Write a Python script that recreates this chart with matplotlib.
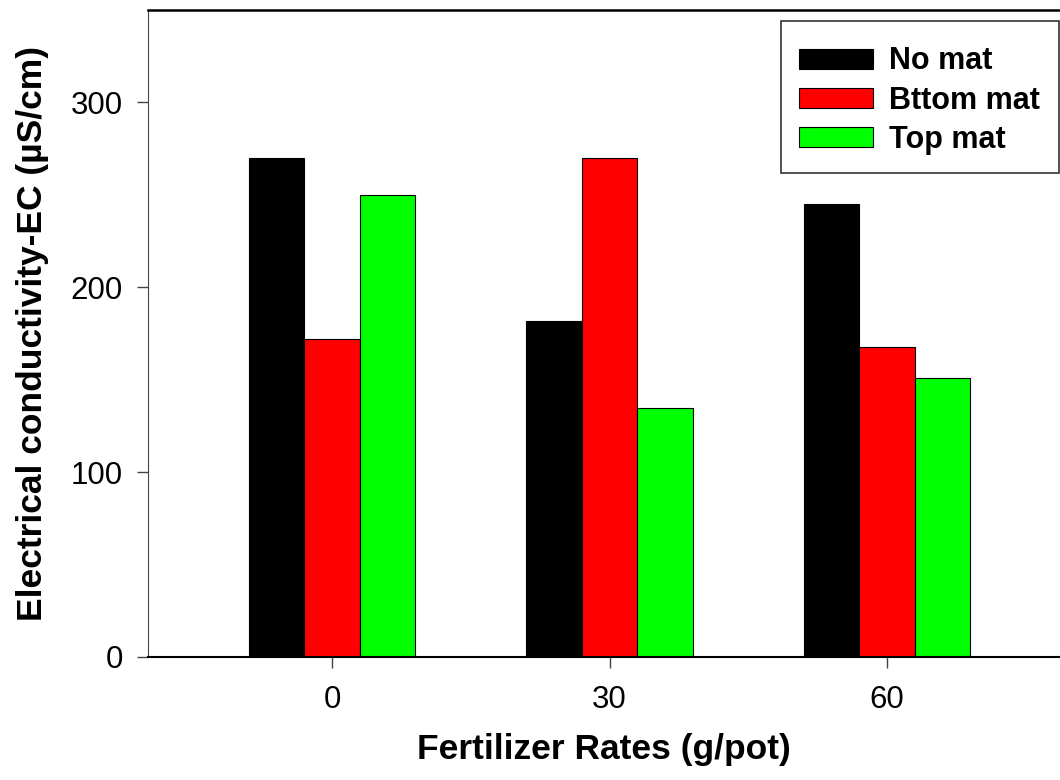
import matplotlib
matplotlib.use("Agg")
import matplotlib.pyplot as plt
from matplotlib.patches import Rectangle
import numpy as np

plt.rcParams['font.family'] = ['Liberation Sans', 'DejaVu Sans']

rates = [0, 30, 60]
no_mat = [270, 182, 245]
bottom_mat = [172, 270, 167.5]
top_mat = [250, 134.5, 151]
labels = ['No mat', 'Bttom mat', 'Top mat']
colors = ['#000000', '#ff0000', '#00ff00']

fig = plt.figure(figsize=(10.6, 7.8), dpi=100)
ax = fig.add_axes([0.1396, 0.1577, 0.8604, 0.8295])

x = np.array(rates, dtype=float)
w = 6
for i, (vals, lab, c) in enumerate(zip([no_mat, bottom_mat, top_mat], labels, colors)):
    ax.bar(x + (i - 1) * w, vals, width=w, color=c, edgecolor='black',
           linewidth=0.8, label=lab)

ax.set_xlim(-19.9, 78.7)
ax.set_ylim(0, 350)
ax.set_xticks(rates)
ax.set_yticks([0, 100, 200, 300])
ax.tick_params(axis='both', labelsize=22.5, length=8, width=1, direction='out',
               color='#444444')
ax.tick_params(axis='x', pad=12)
ax.tick_params(axis='y', pad=10)

ax.spines['right'].set_visible(False)
ax.spines['left'].set_color('#444444')
ax.spines['top'].set_linewidth(1.8)
ax.spines['bottom'].set_linewidth(1.5)

ax.set_xlabel('Fertilizer Rates (g/pot)', fontsize=25.5, fontweight='bold', labelpad=13)
ax.set_ylabel('Electrical conductivity-EC (µS/cm)', fontsize=25.5, fontweight='bold',
              labelpad=16)

# legend without frame, moved down a bit; frame drawn around it afterwards
leg = ax.legend(loc='upper right', bbox_to_anchor=(0.9985, 0.972),
                prop={'weight': 'bold', 'size': 22}, frameon=False,
                handlelength=2.4, handleheight=0.65,
                borderpad=0.6, labelspacing=0.3, handletextpad=0.55,
                borderaxespad=0)

fig.canvas.draw()
bb = leg.get_window_extent().transformed(fig.transFigure.inverted())
extra = 7 / fig.bbox.height
fig.patches.append(Rectangle((bb.x0, bb.y0), bb.width, bb.height + extra,
                             transform=fig.transFigure, fill=False,
                             edgecolor='#333333', linewidth=1.2, zorder=5))

fig.savefig('out.png', dpi=100)
